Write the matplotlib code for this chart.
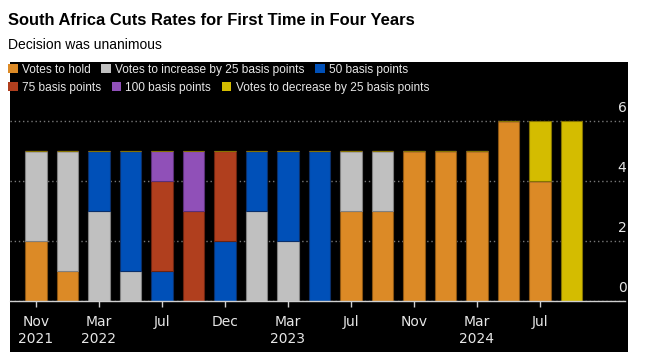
import numpy as np
import matplotlib
matplotlib.use("Agg")
import matplotlib.pyplot as plt
from matplotlib.patches import Patch, Rectangle

# one entry per MPC meeting, Nov 2021 .. Sep 2024
hold = [2, 1, 0, 0, 0, 0, 0, 0, 0, 0, 3, 3, 5, 5, 5, 6, 4, 0]
up25 = [3, 4, 3, 1, 0, 0, 0, 3, 2, 0, 2, 2, 0, 0, 0, 0, 0, 0]
up50 = [0, 0, 2, 4, 1, 0, 2, 2, 3, 5, 0, 0, 0, 0, 0, 0, 0, 0]
up75 = [0, 0, 0, 0, 3, 3, 3, 0, 0, 0, 0, 0, 0, 0, 0, 0, 0, 0]
up100 = [0, 0, 0, 0, 1, 2, 0, 0, 0, 0, 0, 0, 0, 0, 0, 0, 0, 0]
down25 = [0, 0, 0, 0, 0, 0, 0, 0, 0, 0, 0, 0, 0, 0, 0, 0, 2, 6]

series_names = ["Votes to hold", "Votes to increase by 25 basis points", "50 basis points",
                "75 basis points", "100 basis points", "Votes to decrease by 25 basis points"]
colors = ["#DC8A26", "#C0C0C0", "#0050B8", "#B03F1E", "#9050B8", "#D4BC00"]
edges = ["#8a5412", "#808080", "#0a2f6a", "#6b2410", "#5a2f78", "#857400"]

tick_pos = [0, 2, 4, 6, 8, 10, 12, 14, 16]
tick_labels = ["Nov\n2021", "Mar\n2022", "Jul", "Dec", "Mar\n2023", "Jul", "Nov", "Mar\n2024", "Jul"]

lib = ["Liberation Sans", "DejaVu Sans"]
txt = "#e6e6e6"

W, H = 647, 364
fig = plt.figure(figsize=(W / 100, H / 100), dpi=100)
fig.patch.set_facecolor("white")

# black panel behind legend + chart
fig.patches.append(Rectangle((10 / W, 1 - 352 / H), 618 / W, 290 / H,
                             transform=fig.transFigure, facecolor="black",
                             edgecolor="none", zorder=0))

fig.text(8 / W, 1 - 25 / H, "South Africa Cuts Rates for First Time in Four Years",
         fontsize=11.9, fontweight="bold", family=lib, color="black", va="baseline")
fig.text(8 / W, 1 - 49 / H, "Decision was unanimous", fontsize=10,
         family=lib, color="black", va="baseline")

ax = fig.add_axes([10 / W, (H - 301) / H, 615 / W, (301 - 106) / H])
ax.set_facecolor("none")
ax.set_zorder(2)

x = np.arange(len(hold))
bottom = np.zeros(len(hold))
for vals, c, ec in zip([hold, up25, up50, up75, up100, down25], colors, edges):
    v = np.array(vals, dtype=float)
    ax.bar(x, v, width=0.68, bottom=bottom, color=c, edgecolor=ec, linewidth=0.8, zorder=3)
    bottom += v

ax.set_xlim(-0.825, 18.70)
ax.set_ylim(0, 6.5)

for s in ["top", "left", "right"]:
    ax.spines[s].set_visible(False)
ax.spines["bottom"].set_color("#d0d0d0")
ax.spines["bottom"].set_linewidth(1.0)
ax.spines["bottom"].set_zorder(4)

ax.set_xticks(tick_pos)
ax.set_xticklabels(tick_labels, fontsize=10, color=txt, linespacing=1.25)
ax.tick_params(axis="x", length=4, width=1, color="#d0d0d0", pad=6)

ax.set_yticks([0, 2, 4, 6])
ax.set_yticklabels([])
ax.tick_params(axis="y", length=0)
ax.grid(axis="y", color="#777777", linestyle=(0, (1, 2)), linewidth=1, zorder=1)
for yv in [0, 2, 4, 6]:
    ax.annotate(str(yv), (1.0, yv), xycoords=ax.get_yaxis_transform(),
                xytext=(1, 4), textcoords="offset points", ha="right", va="bottom",
                fontsize=10, color=txt)

handles = [Patch(facecolor=c, edgecolor="none") for c in colors]
legend_kw = dict(frameon=False, handlelength=0.8, handleheight=0.8, handletextpad=0.35,
                 columnspacing=0.9, borderaxespad=0, borderpad=0,
                 prop={"family": lib, "size": 8.6}, labelcolor=txt, ncol=3)
fig.legend(handles[:3], series_names[:3], loc="center left",
           bbox_to_anchor=(8 / W, 1 - 70 / H), **legend_kw)
fig.legend(handles[3:], series_names[3:], loc="center left",
           bbox_to_anchor=(8 / W, 1 - 88 / H), **legend_kw)

fig.savefig("out.png", dpi=100)
